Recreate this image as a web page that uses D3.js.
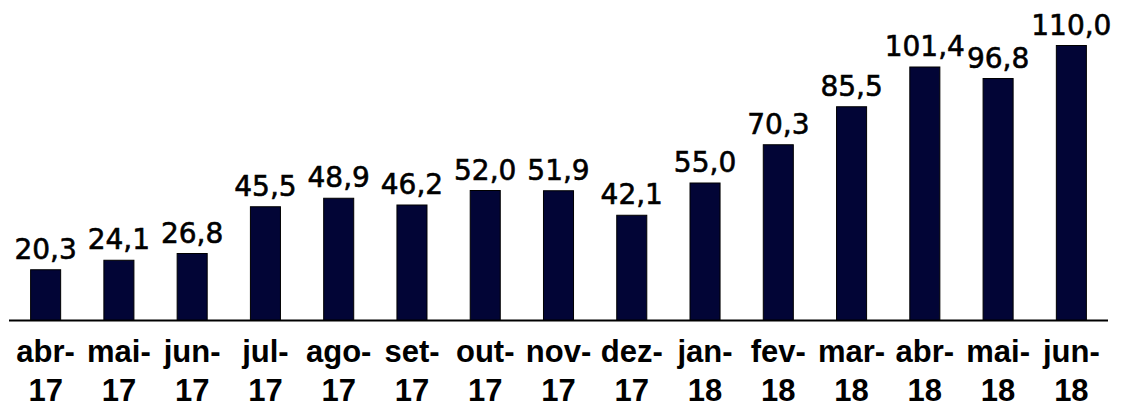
<!DOCTYPE html>
<html><head><meta charset="utf-8">
<script src="https://cdn.jsdelivr.net/npm/d3@7/dist/d3.min.js"></script>
<style>html,body{margin:0;padding:0;background:#fff;overflow:hidden}</style>
</head><body>
<svg id="chart" width="1124" height="408"></svg>
<script>
const months = ["abr-","mai-","jun-","jul-","ago-","set-","out-","nov-","dez-","jan-","fev-","mar-","abr-","mai-","jun-"];
const years = ["17","17","17","17","17","17","17","17","17","18","18","18","18","18","18"];
const values = [20.3,24.1,26.8,45.5,48.9,46.2,52.0,51.9,42.1,55.0,70.3,85.5,101.4,96.8,110.0];
const keys = months.map((m,i)=>i);

const svg = d3.select("#chart");
const x = d3.scaleBand().domain(keys).range([9,1108]).paddingInner(0.59).paddingOuter(0.295);
const y = d3.scaleLinear().domain([0,128]).range([320.5,0.5]);
const fmt = v => v.toFixed(1).replace(".", ",");

svg.selectAll("rect.bar").data(values).join("rect")
  .attr("class","bar")
  .attr("x",(d,i)=>x(i)).attr("width",x.bandwidth())
  .attr("y",d=>y(d)).attr("height",d=>y(0)-y(d))
  .attr("fill","#020536").attr("stroke","#000").attr("stroke-width",1);

svg.append("line").attr("x1",9).attr("x2",1108).attr("y1",y(0)).attr("y2",y(0))
  .attr("stroke","#000").attr("stroke-width",2);

svg.selectAll("text.val").data(values).join("text")
  .attr("class","val")
  .attr("x",(d,i)=>x(i)+x.bandwidth()/2).attr("y",d=>y(d)-11)
  .attr("text-anchor","middle")
  .attr("font-family","DejaVu Sans").attr("font-size",28).attr("fill","#000")
  .attr("stroke","#000").attr("stroke-width",0.6)
  .text(fmt);

const lab = svg.selectAll("g.lab").data(keys).join("g").attr("class","lab")
  .attr("transform",i=>`translate(${x(i)+x.bandwidth()/2},0)`);
lab.append("text").attr("y",362).attr("text-anchor","middle")
  .attr("font-family","Liberation Sans").attr("font-weight","bold").attr("font-size",31)
  .text(i=>months[i]);
lab.append("text").attr("y",401).attr("text-anchor","middle")
  .attr("font-family","Liberation Sans").attr("font-weight","bold").attr("font-size",31)
  .text(i=>years[i]);
</script>
</body></html>
